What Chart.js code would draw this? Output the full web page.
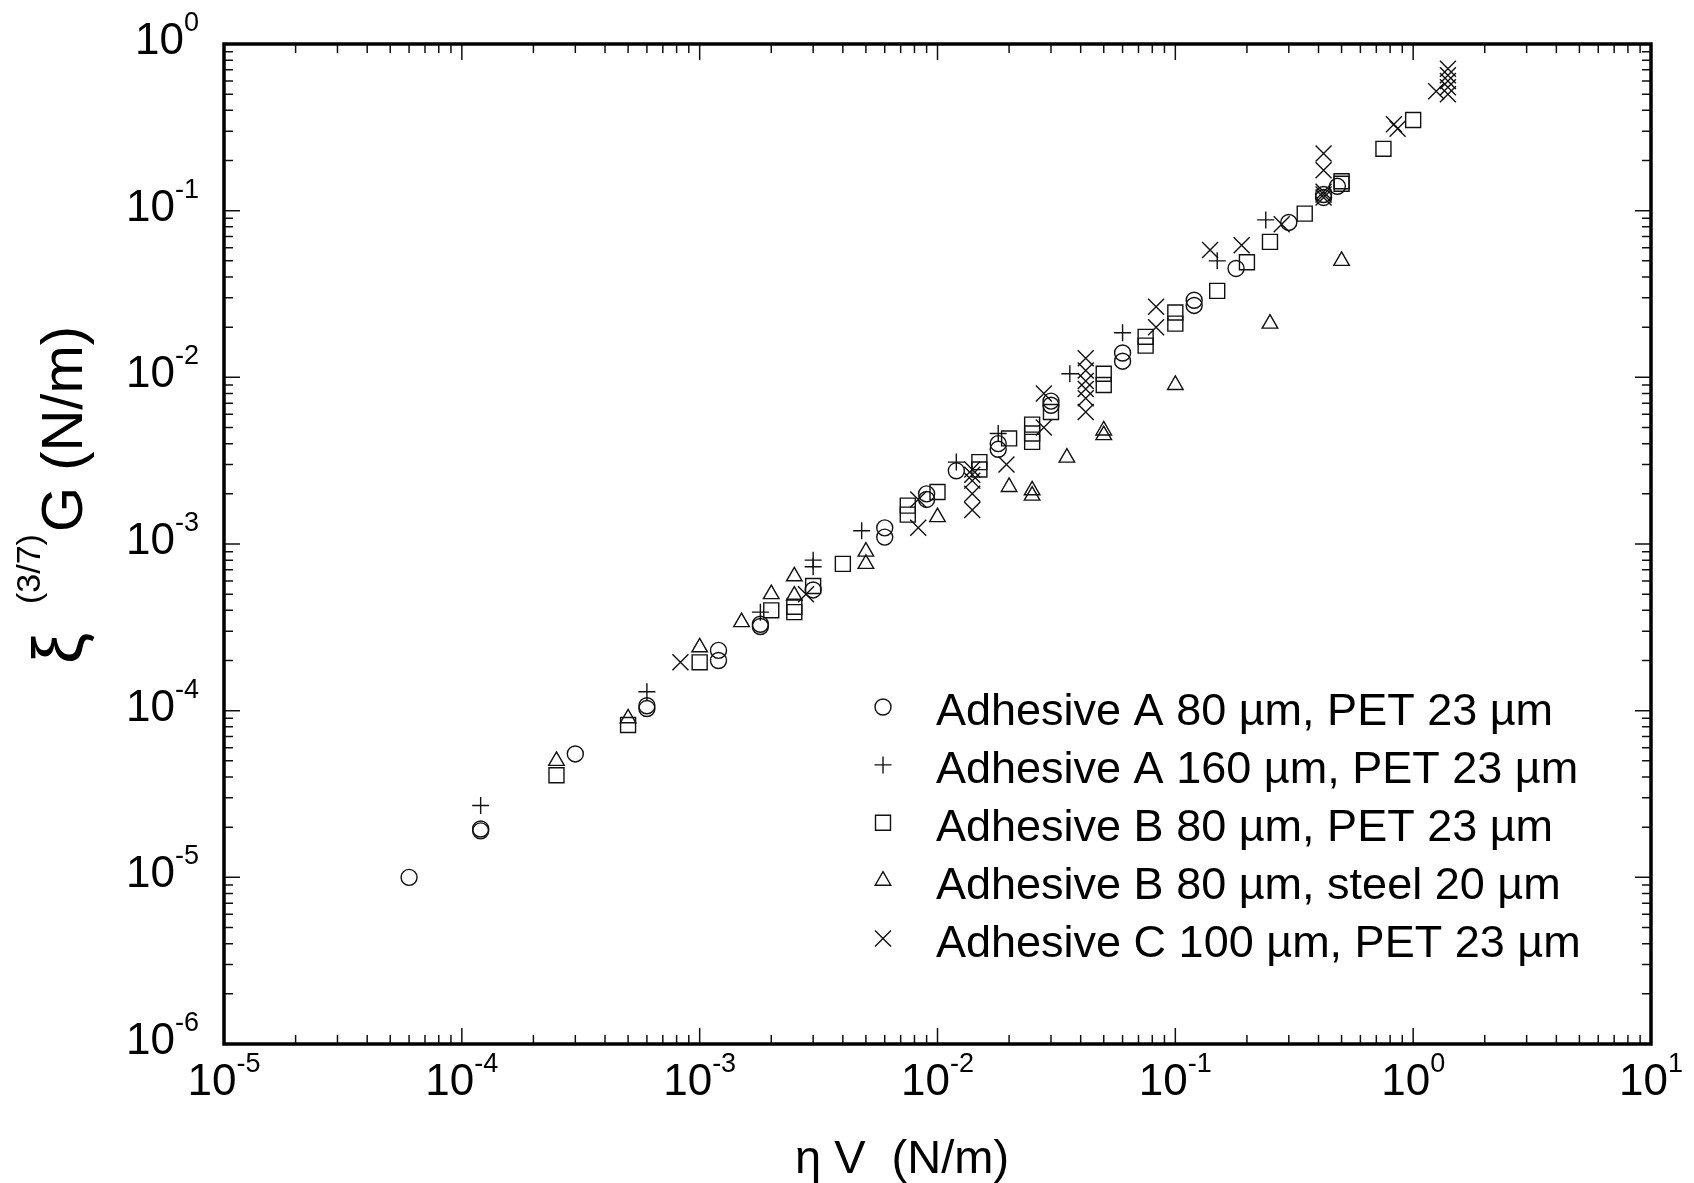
<!DOCTYPE html>
<html>
<head>
<meta charset="utf-8">
<script src="https://cdn.jsdelivr.net/npm/chart.js@4.4.0/dist/chart.umd.min.js"></script>
<style>
  html, body { margin: 0; padding: 0; background: #fff; }
  #chartId { display: block; }
</style>
</head>
<body>
<canvas id="chartId" width="1694" height="1183"></canvas>
<script>
// series names, in legend order
const SERIES_NAMES = [
  'Adhesive A 80 \u00b5m, PET 23 \u00b5m',
  'Adhesive A 160 \u00b5m, PET 23 \u00b5m',
  'Adhesive B 80 \u00b5m, PET 23 \u00b5m',
  'Adhesive B 80 \u00b5m, steel 20 \u00b5m',
  'Adhesive C 100 \u00b5m, PET 23 \u00b5m'
]

// Adhesive A 80 um (circles)
const adhA80X = [6e-5, 1.2e-4, 1.2e-4, 3e-4, 6e-4, 6e-4, 1.2e-3, 1.2e-3, 1.8e-3, 1.8e-3, 3e-3, 6e-3, 6e-3, 9e-3, 9e-3, 1.2e-2, 1.8e-2, 1.8e-2, 3e-2, 3e-2, 6e-2, 6e-2, 0.12, 0.12, 0.18, 0.3, 0.42, 0.42, 0.48]
const adhA80Y = [1.0e-5, 1.9e-5, 1.95e-5, 5.5e-5, 1.03e-4, 1.07e-4, 2.3e-4, 2.0e-4, 3.3e-4, 3.2e-4, 5.3e-4, 1.25e-3, 1.1e-3, 2.0e-3, 1.85e-3, 2.75e-3, 4.0e-3, 3.7e-3, 7.2e-3, 6.8e-3, 1.4e-2, 1.25e-2, 2.9e-2, 2.7e-2, 4.5e-2, 8.5e-2, 0.125, 0.12, 0.14]

// Adhesive A 160 um (plus)
const adhA160X = [1.2e-4, 6e-4, 1.8e-3, 3e-3, 3e-3, 4.8e-3, 1.2e-2, 1.8e-2, 3.6e-2, 6e-2, 0.15, 0.24]
const adhA160Y = [2.7e-5, 1.3e-4, 3.9e-4, 8.0e-4, 7.3e-4, 1.2e-3, 3.1e-3, 4.6e-3, 1.05e-2, 1.85e-2, 5.0e-2, 8.8e-2]

// Adhesive B 80 um, PET (squares)
const adhBPetX = [2.5e-4, 5e-4, 1e-3, 2e-3, 2.5e-3, 2.5e-3, 3e-3, 4e-3, 7.5e-3, 7.5e-3, 1e-2, 1.5e-2, 1.5e-2, 2e-2, 2.5e-2, 2.5e-2, 2.5e-2, 3e-2, 5e-2, 5e-2, 7.5e-2, 7.5e-2, 0.1, 0.1, 0.15, 0.2, 0.25, 0.35, 0.5, 0.5, 0.75, 1.0]
const adhBPetY = [4.1e-5, 8.2e-5, 1.95e-4, 4.0e-4, 4.2e-4, 3.9e-4, 5.6e-4, 7.6e-4, 1.7e-3, 1.5e-3, 2.05e-3, 3.1e-3, 2.8e-3, 4.3e-3, 5.2e-3, 4.6e-3, 4.1e-3, 6.2e-3, 1.05e-2, 9.0e-3, 1.75e-2, 1.55e-2, 2.45e-2, 2.1e-2, 3.3e-2, 4.9e-2, 6.5e-2, 9.6e-2, 0.15, 0.145, 0.235, 0.35]

// Adhesive B 80 um, steel (triangles)
const adhBSteelX = [2.5e-4, 5e-4, 1e-3, 1.5e-3, 2e-3, 2.5e-3, 2.5e-3, 5e-3, 5e-3, 1e-2, 2e-2, 2.5e-2, 2.5e-2, 3.5e-2, 5e-2, 5e-2, 0.1, 0.25, 0.5]
const adhBSteelY = [5.0e-5, 9.0e-5, 2.4e-4, 3.4e-4, 5.0e-4, 4.9e-4, 6.4e-4, 9.0e-4, 7.6e-4, 1.45e-3, 2.2e-3, 2.1e-3, 1.95e-3, 3.3e-3, 4.8e-3, 4.5e-3, 9.0e-3, 2.1e-2, 5.0e-2]

// Adhesive C 100 um (x)
const adhCX = [8.3e-4, 2.8e-3, 8.3e-3, 8.3e-3, 1.4e-2, 1.4e-2, 1.4e-2, 1.4e-2, 1.4e-2, 1.95e-2, 2.8e-2, 2.8e-2, 4.2e-2, 4.2e-2, 4.2e-2, 4.2e-2, 4.2e-2, 4.2e-2, 8.3e-2, 8.3e-2, 0.14, 0.19, 0.28, 0.42, 0.42, 0.42, 0.42, 0.42, 0.83, 0.86, 1.25, 1.4, 1.4, 1.4, 1.4, 1.4]
const adhCY = [1.95e-4, 5.0e-4, 1.25e-3, 1.85e-3, 2.8e-3, 2.6e-3, 2.4e-3, 2.0e-3, 1.6e-3, 3.0e-3, 8.0e-3, 5.0e-3, 1.3e-2, 1.1e-2, 9.5e-3, 8.5e-3, 7.5e-3, 6.2e-3, 2.0e-2, 2.65e-2, 5.8e-2, 6.2e-2, 8.3e-2, 0.22, 0.175, 0.13, 0.125, 0.12, 0.33, 0.31, 0.52, 0.71, 0.65, 0.6, 0.55, 0.5]

// axis decades (powers of ten)
const X_TICK_EXPONENTS = [-5, -4, -3, -2, -1, 0, 1]
const Y_TICK_EXPONENTS = [-6, -5, -4, -3, -2, -1, 0]

const FONT = '"Liberation Sans", Arial, sans-serif'

function toPoints(xs, ys) {
  return xs.map((x, i) => ({ x: x, y: ys[i] }))
}

function makeSet(label, xs, ys, style, radius) {
  return {
    label: label,
    data: toPoints(xs, ys),
    pointStyle: style,
    pointRadius: radius,
    pointHoverRadius: radius,
    pointBorderWidth: 1.4,
    borderColor: '#111',
    backgroundColor: 'rgba(0,0,0,0)',
    pointBorderColor: '#111',
    pointBackgroundColor: 'rgba(0,0,0,0)'
  }
}

// "10" with a raised exponent; y is the baseline of "10"
function drawPow(ctx, exp, x, y, align) {
  ctx.font = '44px ' + FONT
  let wBase = ctx.measureText('10').width
  ctx.font = '27px ' + FONT
  let expText = String(exp)
  let wExp = ctx.measureText(expText).width
  let x0 = align == 'center' ? x - (wBase + wExp) / 2 : x - (wBase + wExp)
  ctx.font = '44px ' + FONT
  ctx.fillText('10', x0, y)
  ctx.font = '27px ' + FONT
  ctx.fillText(expText, x0 + wBase, y - 23)
}

const axesPlugin = {
  id: 'axesPlugin',
  afterDatasetsDraw(chart) {
    const ctx = chart.ctx
    const xs = chart.scales.x
    const ys = chart.scales.y
    const a = chart.chartArea

    ctx.save()
    ctx.strokeStyle = '#111'
    ctx.lineWidth = 1.5

    // tick marks, pointing inwards on all four sides
    for (let i = 0; i < X_TICK_EXPONENTS.length; i++) {
      let e = X_TICK_EXPONENTS[i]
      for (let m = 1; m < 10; m++) {
        if (i == X_TICK_EXPONENTS.length - 1 && m > 1) break
        let px = xs.getPixelForValue(m * Math.pow(10, e))
        let len = m == 1 ? 16 : 9
        ctx.beginPath()
        ctx.moveTo(px, a.bottom)
        ctx.lineTo(px, a.bottom - len)
        ctx.moveTo(px, a.top)
        ctx.lineTo(px, a.top + len)
        ctx.stroke()
      }
    }
    for (let i = 0; i < Y_TICK_EXPONENTS.length; i++) {
      let e = Y_TICK_EXPONENTS[i]
      for (let m = 1; m < 10; m++) {
        if (i == Y_TICK_EXPONENTS.length - 1 && m > 1) break
        let py = ys.getPixelForValue(m * Math.pow(10, e))
        let len = m == 1 ? 16 : 9
        ctx.beginPath()
        ctx.moveTo(a.left, py)
        ctx.lineTo(a.left + len, py)
        ctx.moveTo(a.right, py)
        ctx.lineTo(a.right - len, py)
        ctx.stroke()
      }
    }

    // frame
    ctx.lineWidth = 3.5
    ctx.strokeStyle = '#000'
    ctx.strokeRect(a.left, a.top, a.right - a.left, a.bottom - a.top)

    // tick labels
    ctx.fillStyle = '#000'
    ctx.textAlign = 'left'
    ctx.textBaseline = 'alphabetic'
    X_TICK_EXPONENTS.forEach((e) => {
      drawPow(ctx, e, xs.getPixelForValue(Math.pow(10, e)), a.bottom + 51, 'center')
    })
    Y_TICK_EXPONENTS.forEach((e) => {
      drawPow(ctx, e, a.left - 25, ys.getPixelForValue(Math.pow(10, e)) + 10, 'right')
    })

    // x axis title
    ctx.font = '47px ' + FONT
    ctx.textAlign = 'center'
    ctx.fillText('\u03b7 V  (N/m)', 902, 1173)

    // y axis title, rotated, with superscript (3/7)
    ctx.textAlign = 'left'
    ctx.save()
    ctx.translate(82, 664)
    ctx.rotate(-Math.PI / 2)
    ctx.font = '70px ' + FONT
    ctx.fillText('\u03be', 0, 0)
    ctx.font = '34px ' + FONT
    let wSup = ctx.measureText('(3/7)').width
    ctx.fillText('(3/7)', 60, -42)
    ctx.font = '58px ' + FONT
    ctx.fillText('G (N/m)', 62 + wSup, 0)
    ctx.restore()

    // legend inside the plot
    let rowY = 707
    chart.data.datasets.forEach((ds, i) => {
      let cy = rowY + i * 57.9
      ctx.strokeStyle = '#111'
      ctx.fillStyle = 'rgba(0,0,0,0)'
      ctx.lineWidth = 1.4
      Chart.helpers.drawPoint(ctx, {
        pointStyle: ds.pointStyle,
        radius: ds.pointRadius,
        rotation: 0,
        borderWidth: 1.4
      }, 883, cy)
      ctx.fillStyle = '#000'
      ctx.font = '45px ' + FONT
      ctx.textAlign = 'left'
      ctx.fillText(ds.label, 936, cy + 18)
    })
    ctx.restore()
  }
}

const chart = new Chart(document.getElementById('chartId'), {
  type: 'scatter',
  data: {
    datasets: [
      makeSet(SERIES_NAMES[0], adhA80X, adhA80Y, 'circle', 8),
      makeSet(SERIES_NAMES[1], adhA160X, adhA160Y, 'cross', 8.5),
      makeSet(SERIES_NAMES[2], adhBPetX, adhBPetY, 'rect', 10.6),
      makeSet(SERIES_NAMES[3], adhBSteelX, adhBSteelY, 'triangle', 9),
      makeSet(SERIES_NAMES[4], adhCX, adhCY, 'crossRot', 11.3)
    ]
  },
  options: {
    responsive: false,
    animation: false,
    devicePixelRatio: 1,
    events: [],
    layout: {
      padding: { left: 224, right: 43, top: 44, bottom: 139 }
    },
    plugins: {
      legend: { display: false },
      tooltip: { enabled: false }
    },
    scales: {
      x: {
        type: 'logarithmic',
        display: false,
        min: 1e-5,
        max: 10
      },
      y: {
        type: 'logarithmic',
        display: false,
        min: 1e-6,
        max: 1
      }
    }
  },
  plugins: [axesPlugin]
});
</script>
</body>
</html>
